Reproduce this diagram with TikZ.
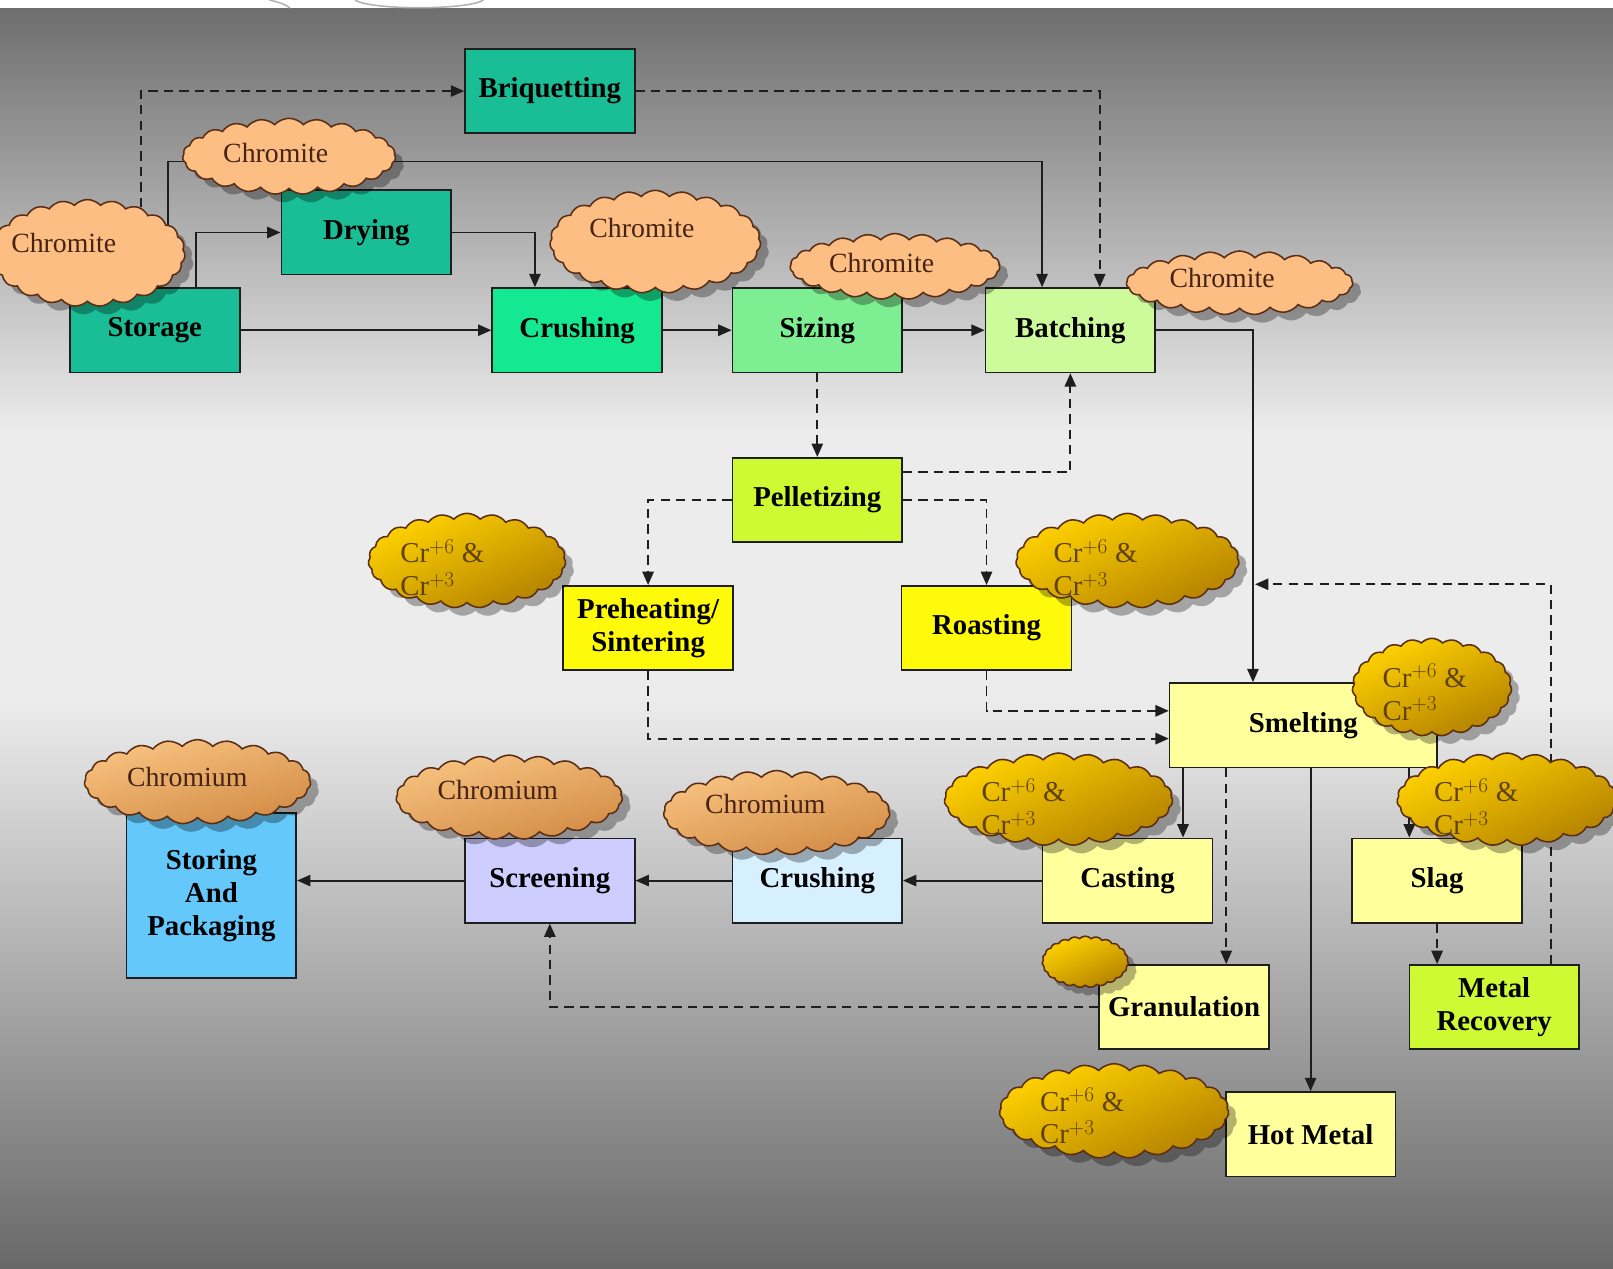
\documentclass[tikz,border=0pt]{standalone}
\usepackage{fontspec}
\setmainfont{Liberation Serif}
\usetikzlibrary{shapes.symbols,arrows.meta,shadows,calc}
\pgfdeclarelayer{bg}
\pgfdeclarelayer{lines}
\pgfsetlayers{bg,lines,main}
\definecolor{bgdark}{RGB}{110,110,110}
\definecolor{bglight}{RGB}{236,236,236}
\definecolor{bgbot}{RGB}{104,104,104}
\definecolor{tealA}{RGB}{25,190,150}
\definecolor{crushG}{RGB}{20,232,145}
\definecolor{sizeG}{RGB}{125,238,145}
\definecolor{batchG}{RGB}{205,250,155}
\definecolor{pelletG}{RGB}{205,250,50}
\definecolor{yelA}{RGB}{255,250,10}
\definecolor{paleY}{RGB}{255,255,155}
\definecolor{crushB}{RGB}{215,240,255}
\definecolor{screenL}{RGB}{205,205,255}
\definecolor{storeB}{RGB}{100,200,250}
\definecolor{cloudLine}{RGB}{90,45,20}
\definecolor{chromiteF}{RGB}{252,190,130}
\definecolor{chromTop}{RGB}{248,195,128}
\definecolor{chromBot}{RGB}{210,140,70}
\definecolor{goldTop}{RGB}{255,210,0}
\definecolor{goldBot}{RGB}{180,130,0}
\definecolor{cloudTxt}{RGB}{70,35,20}
\definecolor{goldTxt}{RGB}{95,65,10}
\definecolor{lineC}{RGB}{30,30,30}
\begin{document}
\begin{tikzpicture}[x=1pt,y=-1pt,
  box/.style={draw=lineC, line width=1.6pt, minimum width=165pt, minimum height=82pt,
    inner sep=2pt, align=center, font=\fontsize{28}{32}\selectfont\bfseries},
  conn/.style={draw=lineC, line width=1.8pt, -{Triangle[length=13pt,width=11pt]}},
  dconn/.style={conn, dash pattern=on 9pt off 6pt},
  cloudbase/.style={cloud, cloud puffs=23, cloud puff arc=95, cloud ignores aspect,
    draw=cloudLine, line width=1.5pt, inner sep=0pt,
    drop shadow={shadow xshift=8pt, shadow yshift=-8pt, opacity=0.3, fill=black}},
  chromite/.style={cloudbase, fill=chromiteF},
  chromium/.style={cloudbase, top color=chromTop, bottom color=chromBot, shading angle=15},
  goldc/.style={cloudbase, top color=goldTop, bottom color=goldBot, shading angle=25},
  ctext/.style={text=cloudTxt, font=\fontsize{27}{30}\selectfont},
  gtext/.style={text=goldTxt, align=left, font=\fontsize{28}{32}\selectfont},
]
\useasboundingbox (0,0) rectangle (1568,1233);
\begin{pgfonlayer}{bg}
  \fill[white] (0,0) rectangle (1568,1233);
  \shade[top color=bgdark, bottom color=bglight] (0,8) rectangle (1568,420);
  \fill[bglight] (0,419) rectangle (1568,681);
  \shade[top color=bglight, bottom color=bgbot] (0,680) rectangle (1568,1233);
  \draw[gray!60, line width=1.5pt] (262,0) .. controls (275,3) and (280,6) .. (282,8);
  \draw[gray!60, line width=1.5pt] (345,0) .. controls (360,10) and (455,10) .. (470,0);
\end{pgfonlayer}

% boxes
\node[box, fill=tealA] (briq) at (534.5,88.5) {Briquetting};
\node[box, fill=tealA] (dry) at (356,226) {Drying};
\node[box, fill=tealA] (stor) at (150.5,321) {Storage};
\node[box, fill=crushG] (crushA) at (561,321) {Crushing};
\node[box, fill=sizeG] (sizing) at (794.5,321) {Sizing};
\node[box, fill=batchG] (batch) at (1040.5,321) {Batching};
\node[box, fill=pelletG] (pellet) at (794.5,486) {Pelletizing};
\node[box, fill=yelA] (preheat) at (630,610.5) {Preheating/\\Sintering};
\node[box, fill=yelA] (roast) at (959,610.5) {Roasting};
\node[box, fill=paleY, minimum width=260pt] (smelt) at (1267,705) {Smelting};
\node[box, fill=paleY] (cast) at (1096,856) {Casting};
\node[box, fill=paleY] (slag) at (1397,856) {Slag};
\node[box, fill=paleY] (gran) at (1151,979) {Granulation};
\node[box, fill=pelletG] (metal) at (1452.5,979) {Metal\\Recovery};
\node[box, fill=paleY] (hot) at (1274,1102.5) {Hot Metal};
\node[box, fill=crushB] (crushB) at (794.5,856) {Crushing};
\node[box, fill=screenL] (screen) at (534.5,856) {Screening};
\node[box, fill=storeB, minimum height=161pt] (storing) at (205.5,870.5) {Storing\\And\\Packaging};

% clouds
\node[chromite, minimum width=190pt, minimum height=104pt] (c1) at (85,246) {};
\node[ctext] (c1t) at (62,236) {Chromite};
\node[chromite, minimum width=207pt, minimum height=74pt] (c2) at (281,152) {};
\node[ctext] (c2t) at (268,149) {Chromite};
\node[chromite, minimum width=205pt, minimum height=100pt] (c3) at (637,235) {};
\node[ctext] (c3t) at (624,222) {Chromite};
\node[chromite, minimum width=204pt, minimum height=64pt] (c4) at (870,259) {};
\node[ctext] (c4t) at (857,256) {Chromite};
\node[chromite, minimum width=220pt, minimum height=62pt] (c5) at (1205,275) {};
\node[ctext] (c5t) at (1188,270) {Chromite};

\node[chromium, minimum width=220pt, minimum height=82pt] (m1) at (192,760) {};
\node[ctext] (m1t) at (182,755) {Chromium};
\node[chromium, minimum width=220pt, minimum height=82pt] (m2) at (495,775) {};
\node[ctext] (m2t) at (484,768) {Chromium};
\node[chromium, minimum width=220pt, minimum height=82pt] (m3) at (755,790) {};
\node[ctext] (m3t) at (744,782) {Chromium};

\node[goldc, minimum width=192pt, minimum height=92pt] (g1) at (454,545) {};
\node[gtext] (g1t) at (430,552) {Cr$^{+6}$ \&\\Cr$^{+3}$};
\node[goldc, minimum width=217pt, minimum height=92pt] (g2) at (1096,545) {};
\node[gtext] (g2t) at (1065,552) {Cr$^{+6}$ \&\\Cr$^{+3}$};
\node[goldc, minimum width=155pt, minimum height=95pt] (g3) at (1392,668) {};
\node[gtext] (g3t) at (1385,673) {Cr$^{+6}$ \&\\Cr$^{+3}$};
\node[goldc, minimum width=222pt, minimum height=90pt] (g4) at (1029,777) {};
\node[gtext] (g4t) at (995,784) {Cr$^{+6}$ \&\\Cr$^{+3}$};
\node[goldc, minimum width=214pt, minimum height=90pt] (g5) at (1465,777) {};
\node[gtext] (g5t) at (1435,784) {Cr$^{+6}$ \&\\Cr$^{+3}$};
\node[goldc, minimum width=84pt, minimum height=50pt] (g6) at (1055,935) {};
\node[goldc, minimum width=223pt, minimum height=92pt] (g7) at (1083,1080) {};
\node[gtext] (g7t) at (1052,1085) {Cr$^{+6}$ \&\\Cr$^{+3}$};

% connector bend points
\coordinate (k1) at (1013,157);
\coordinate (jn) at (1220,568);

\begin{pgfonlayer}{lines}
  \draw[conn] (stor.east) -- (crushA.west);
  \draw[conn] (crushA.east) -- (sizing.west);
  \draw[conn] (sizing.east) -- (batch.west);
  \draw[conn] ([xshift=40pt]stor.north) |- (dry.west);
  \draw[conn] (dry.east) -| ([xshift=-41pt]crushA.north);
  \draw[conn] ([xshift=78pt,yshift=-25pt]c1.north) |- (k1) -- (k1 |- batch.north);
  \draw[dconn] ([xshift=52pt,yshift=-8pt]c1.north) |- (briq.west);
  \draw[dconn] (briq.east) -| ([xshift=28.5pt]batch.north);
  \draw[conn] (batch.east) -| ([xshift=-49pt]smelt.north);
  \draw[dconn] (sizing.south) -- (pellet.north);
  \draw[dconn] ([yshift=27pt]pellet.east) -| (batch.south);
  \draw[dconn] (pellet.west) -| (preheat.north);
  \draw[dconn] (pellet.east) -| (roast.north);
  \draw[dconn] (preheat.south) |- ([yshift=-13pt]smelt.west);
  \draw[dconn] (roast.south) |- ([yshift=14pt]smelt.west);
  \draw[dconn] ([xshift=55pt]metal.north) |- (jn);
  \draw[conn] ([xshift=-117pt]smelt.south) -- ([xshift=-117pt]smelt.south |- cast.north);
  \draw[dconn] ([xshift=-75pt]smelt.south) -- ([xshift=-75pt]smelt.south |- gran.north);
  \draw[conn] ([xshift=7pt]smelt.south) -- ([xshift=7pt]smelt.south |- hot.north);
  \draw[conn] ([xshift=103pt]smelt.south) -- ([xshift=103pt]smelt.south |- slag.north);
  \draw[dconn] (slag.south) -- (slag.south |- metal.north);
  \draw[conn] (cast.west) -- (crushB.east);
  \draw[conn] (crushB.west) -- (screen.east);
  \draw[conn] (screen.west) -- (screen.west -| storing.east);
  \draw[dconn] (gran.west) -| (screen.south);
\end{pgfonlayer}
\end{tikzpicture}
\end{document}
